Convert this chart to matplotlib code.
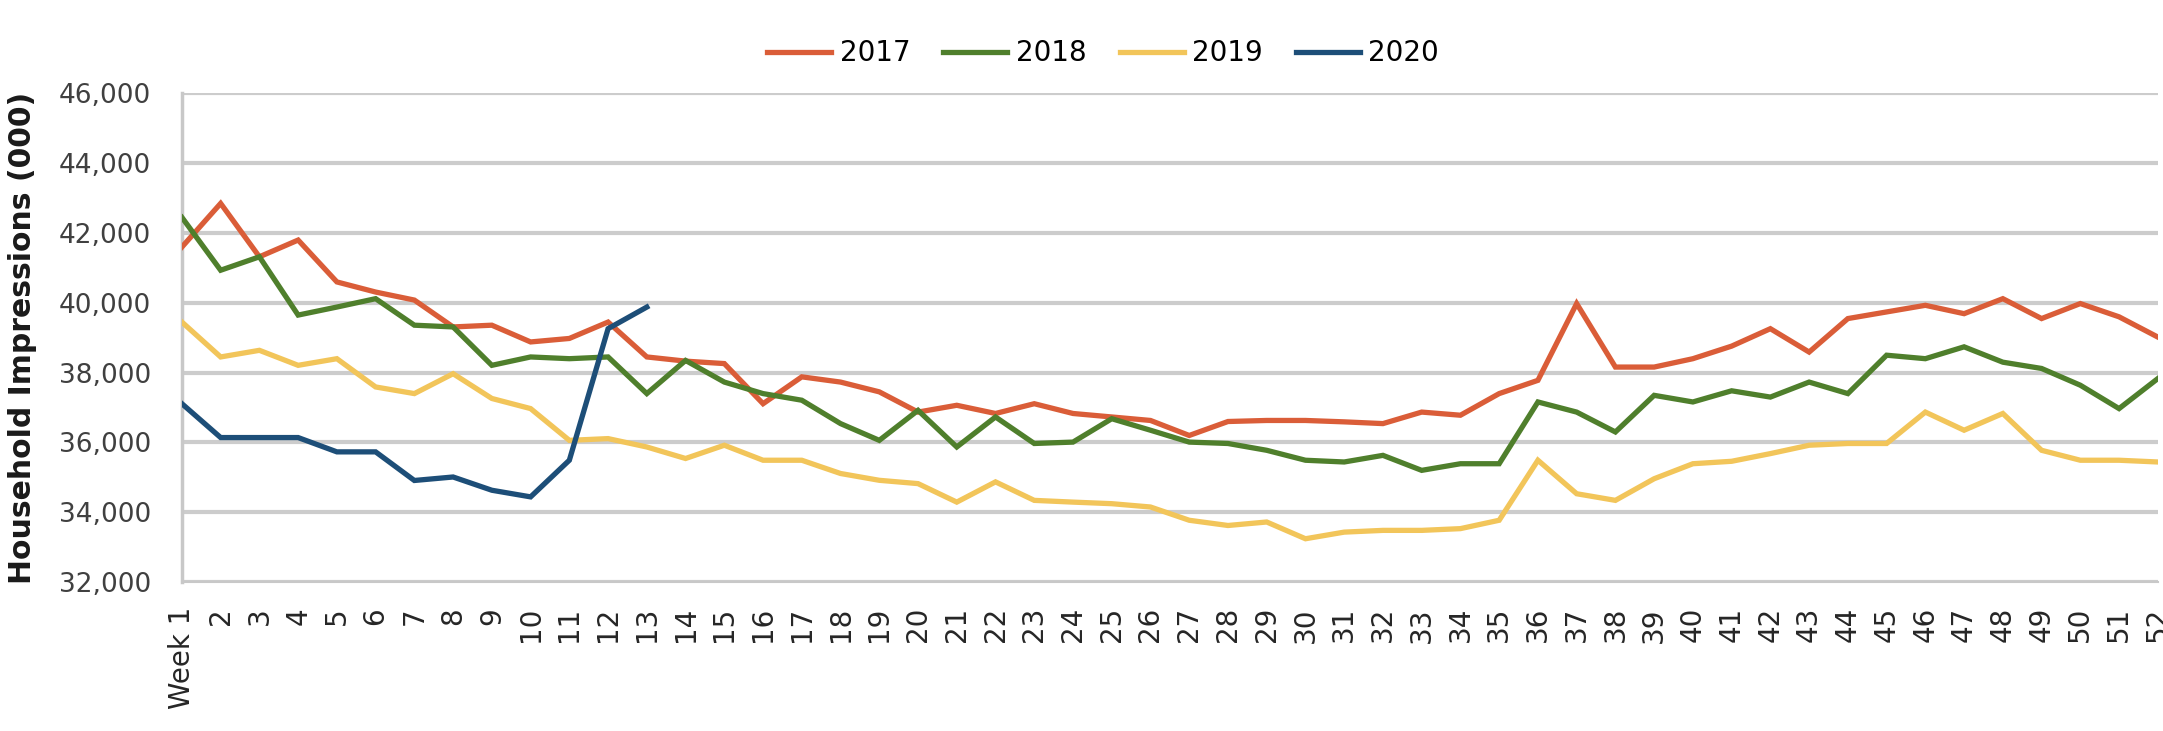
import matplotlib.pyplot as plt
import numpy as np

# weekly household impressions (000)
weeks = np.arange(1, 53)
week_labels = ['Week 1'] + [str(w) for w in range(2, 53)]

y2017 = [41600, 42850, 41320, 41800, 40600, 40310, 40080, 39310, 39360, 38880,
         38980, 39450, 38450, 38330, 38260, 37110, 37880, 37730, 37450, 36870,
         37065, 36830, 37110, 36830, 36730, 36630, 36200, 36600, 36630, 36630,
         36590, 36540, 36870, 36780, 37400, 37780, 39980, 38160, 38160, 38400,
         38760, 39260, 38590, 39550, 39740, 39930, 39690, 40120, 39550, 39980,
         39600, 39020]
y2018 = [42450, 40935, 41320, 39650, 39880, 40120, 39360, 39310, 38210, 38450,
         38400, 38450, 37400, 38350, 37730, 37400, 37210, 36540, 36060, 36920,
         35870, 36730, 35970, 36010, 36680, 36350, 36010, 35970, 35775, 35490,
         35440, 35630, 35200, 35390, 35390, 37160, 36870, 36300, 37350, 37160,
         37480, 37300, 37730, 37400, 38500, 38400, 38740, 38300, 38120, 37640,
         36970, 37830]
y2019 = [39450, 38450, 38640, 38210, 38400, 37590, 37400, 37970, 37260, 36970,
         36060, 36110, 35870, 35540, 35920, 35490, 35490, 35110, 34915, 34820,
         34290, 34870, 34340, 34290, 34245, 34150, 33770, 33620, 33720, 33240,
         33430, 33480, 33480, 33530, 33770, 35490, 34530, 34340, 34960, 35390,
         35460, 35680, 35920, 35970, 35970, 36870, 36350, 36830, 35775, 35490,
         35490, 35440]
y2020 = [37110, 36140, 36140, 36140, 35730, 35730, 34910, 35010, 34630, 34440,
         35490, 39260, 39880]

series = [('2017', y2017, '#DA5D38'),
          ('2018', y2018, '#4F7F2C'),
          ('2019', y2019, '#F2C55A'),
          ('2020', y2020, '#1D4E78')]

fig = plt.figure(figsize=(21.63, 7.31), dpi=100)
ax = fig.add_axes([0.0841, 0.2038, 0.9135, 0.6683])

for name, vals, col in series:
    ax.plot(weeks[:len(vals)], vals, color=col, lw=3.8, label=name,
            solid_joinstyle='miter', zorder=3)

ax.set_xlim(1, 52)
ax.set_ylim(32000, 46000)
ax.set_yticks(np.arange(32000, 46001, 2000))
ax.set_yticklabels(['{:,}'.format(v) for v in range(32000, 46001, 2000)],
                   fontsize=19, color='#404040')
ax.set_xticks(weeks)
ax.set_xticklabels(week_labels, rotation=90, fontsize=20, color='#262626',
                   va='top')
ax.tick_params(axis='y', length=0, pad=22)
ax.tick_params(axis='x', length=0, pad=18)

ax.grid(axis='y', color='#CCCCCC', lw=3, zorder=0)
for s in ['top', 'right']:
    ax.spines[s].set_visible(False)
ax.spines['left'].set_color('#C8C8C8')
ax.spines['left'].set_linewidth(2.5)
ax.spines['bottom'].set_color('#C8C8C8')
ax.spines['bottom'].set_linewidth(1.5)

ax.set_ylabel('Household Impressions (000)', fontsize=21.5, fontweight='bold',
              color='#1A1A1A', labelpad=16)

fig.legend(loc='center', bbox_to_anchor=(0.51, 0.927), ncol=4, frameon=False,
           fontsize=20, handlelength=2.3, handletextpad=0.3,
           columnspacing=1.2)

plt.savefig('out.png', dpi=100)
